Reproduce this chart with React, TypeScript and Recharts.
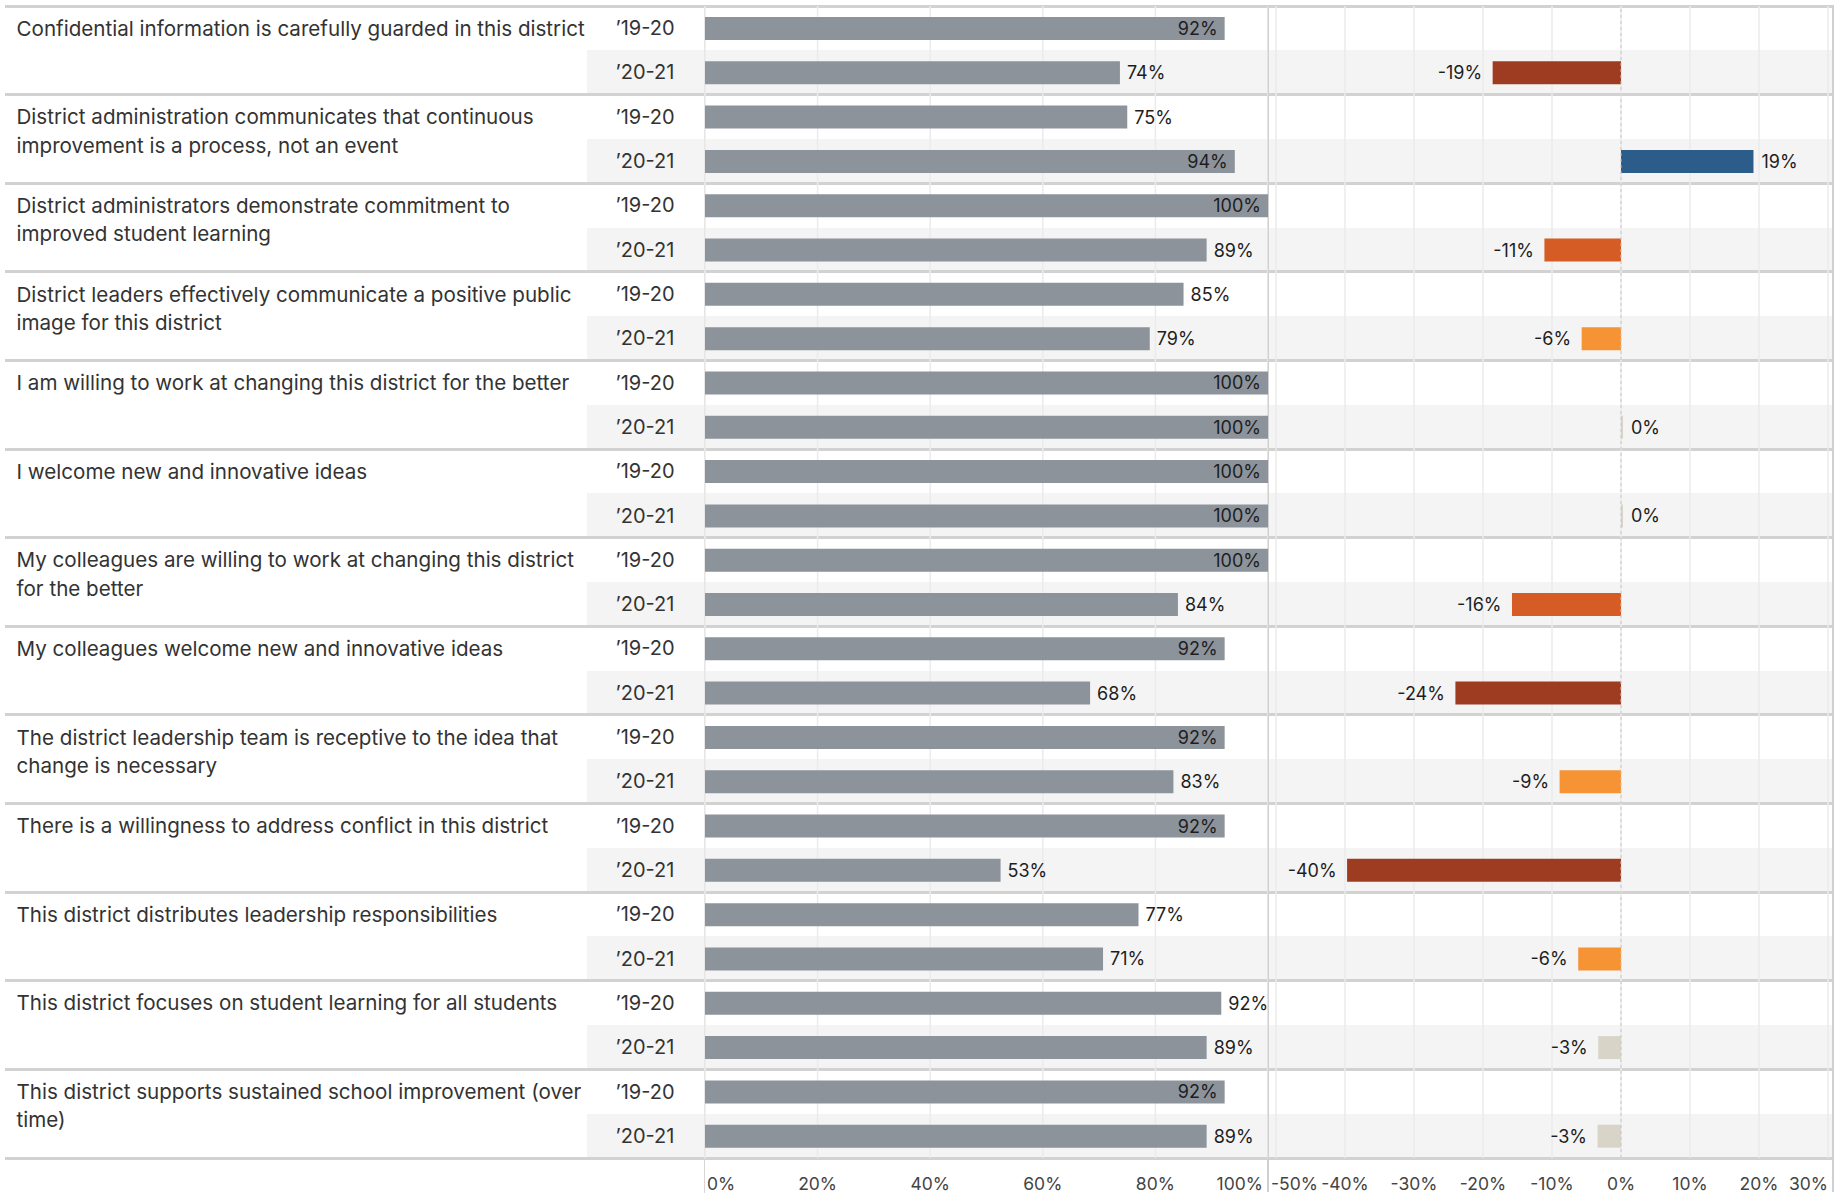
import React from "react";
import {
  BarChart,
  Bar,
  XAxis,
  YAxis,
  CartesianGrid,
  LabelList,
  Cell,
  ReferenceLine,
} from "recharts";

// survey items, in display order (line breaks as wrapped in the original)
const questions = [
  "Confidential information is carefully guarded in this district",
  "District administration communicates that continuous\nimprovement is a process, not an event",
  "District administrators demonstrate commitment to\nimproved student learning",
  "District leaders effectively communicate a positive public\nimage for this district",
  "I am willing to work at changing this district for the better",
  "I welcome new and innovative ideas",
  "My colleagues are willing to work at changing this district\nfor the better",
  "My colleagues welcome new and innovative ideas",
  "The district leadership team is receptive to the idea that\nchange is necessary",
  "There is a willingness to address conflict in this district",
  "This district distributes leadership responsibilities",
  "This district focuses on student learning for all students",
  "This district supports sustained school improvement (over\ntime)",
];

const periods = ["\u201919-20", "\u201920-21"];

const score1920 = [0.923, 0.75, 1, 0.85, 1, 1, 1, 0.923, 0.923, 0.923, 0.77, 0.917, 0.923];
const score2021 = [0.737, 0.941, 0.891, 0.79, 1, 1, 0.84, 0.684, 0.832, 0.525, 0.707, 0.891, 0.891];
const change2021 = [-0.186, 0.192, -0.111, -0.057, 0, 0, -0.158, -0.24, -0.089, -0.397, -0.062, -0.033, -0.034];

const scoreTicks = [0, 0.2, 0.4, 0.6, 0.8, 1];
const changeTicks = [-0.5, -0.4, -0.3, -0.2, -0.1, 0, 0.1, 0.2, 0.3];

const rows = questions.flatMap((q, i) => [
  { key: `${i}-0`, qi: i, period: periods[0], score: score1920[i], change: null },
  { key: `${i}-1`, qi: i, period: periods[1], score: score2021[i], change: change2021[i] },
]);
const rowByKey: Record<string, any> = Object.fromEntries(rows.map((r) => [r.key, r]));

const FONT = "Inter, 'Noto Sans', sans-serif";
const W = 1847;
const H = 1193;
const TOP = 6;
const AXIS_H = 35;
const ROW_H = (H - TOP - AXIS_H) / rows.length;
const SPLIT_X = 1268;

const pct = (v: number) => `${Math.round(v * 100)}%`;

const changeColor = (v: number | null) => {
  if (v == null) return "none";
  if (v > 0) return "#2c5c8a";
  if (v >= -0.04) return "#d8d4c8";
  if (v >= -0.1) return "#f59335";
  if (v >= -0.17) return "#d55c24";
  return "#9e3c22";
};

const rectOf = (props: any) => {
  const vb = props.viewBox || {};
  const x = vb.x ?? props.x;
  const y = vb.y ?? props.y;
  const width = vb.width ?? props.width;
  const height = vb.height ?? props.height;
  return { left: Math.min(x, x + width), right: Math.max(x, x + width), cy: y + height / 2 };
};

const renderScoreLabel = (props: any) => {
  const { value } = props;
  if (value == null) return null;
  const { right, cy } = rectOf(props);
  const inside = value >= 0.92;
  return (
    <text
      x={inside ? right - 7 : right + 7}
      y={cy}
      textAnchor={inside ? "end" : "start"}
      dominantBaseline="central"
      fontSize={18}
      fontFamily={FONT}
      fill="#1e1e1e"
    >
      {pct(value)}
    </text>
  );
};

const renderChangeLabel = (props: any) => {
  const { value } = props;
  if (value == null) return null;
  const { left, right, cy } = rectOf(props);
  const neg = value < 0;
  return (
    <text
      x={neg ? left - 10.5 : right + 8}
      y={cy}
      textAnchor={neg ? "end" : "start"}
      dominantBaseline="central"
      fontSize={18}
      fontFamily={FONT}
      fill="#1e1e1e"
    >
      {pct(value)}
    </text>
  );
};

const makeAxisTick = (ticks: number[], startShift: number, endShift: number) => (props: any) => {
  const { x, y, payload } = props;
  const v = payload.value;
  const first = v === ticks[0];
  const last = v === ticks[ticks.length - 1];
  return (
    <text
      x={x + (first ? startShift : last ? endShift : 0)}
      y={y + 17}
      textAnchor={first ? "start" : last ? "end" : "middle"}
      dominantBaseline="central"
      fontSize={17.5}
      fontFamily={FONT}
      fill="#444"
    >
      {pct(v)}
    </text>
  );
};

const renderRowTick = (props: any) => {
  const { y, payload } = props;
  const row = rowByKey[payload.value];
  if (!row) return null;
  const lines: string[] = row.period === periods[0] ? questions[row.qi].split("\n") : [];
  return (
    <g>
      {lines.map((line, k) => (
        <text
          key={k}
          x={16.5}
          y={y + k * 28.3}
          dominantBaseline="central"
          fontSize={20.6}
          fontFamily={FONT}
          fill="#333"
        >
          {line}
        </text>
      ))}
      <text
        x={645}
        y={y}
        textAnchor="middle"
        dominantBaseline="central"
        fontSize={20}
        fontFamily={FONT}
        fill="#333"
      >
        {row.period}
      </text>
    </g>
  );
};

const Background = () => (
  <div style={{ position: "absolute", left: 0, top: 0, width: W, height: H, background: "#fff" }}>
    {questions.map((_, i) => (
      <div
        key={`band${i}`}
        style={{
          position: "absolute",
          left: 587,
          width: 1833 - 587,
          top: TOP + (2 * i + 1) * ROW_H,
          height: ROW_H,
          background: "#f4f4f4",
        }}
      />
    ))}
    {[...questions, null].map((_, g) => (
      <div
        key={`sep${g}`}
        style={{
          position: "absolute",
          left: 5,
          width: 1828,
          top: TOP + 2 * g * ROW_H - 1.5,
          height: 3,
          background: "#d2d2d2",
        }}
      />
    ))}
    <div style={{ position: "absolute", left: 704, top: TOP, width: 1, height: H - TOP, background: "#d6d6d6" }} />
    <div style={{ position: "absolute", left: SPLIT_X - 1, top: TOP - 1, width: 2, height: H - TOP, background: "#d0d0d0" }} />
    <div style={{ position: "absolute", left: 1832, top: TOP - 1, width: 2, height: H - TOP, background: "#d0d0d0" }} />
  </div>
);

export default function App() {
  return (
    <div style={{ position: "absolute", left: 0, top: 0, width: W, height: H, overflow: "hidden" }}>
      <Background />
      <div style={{ position: "absolute", left: 0, top: 0 }}>
        <BarChart
          width={SPLIT_X}
          height={H}
          data={rows}
          layout="vertical"
          margin={{ top: TOP, right: 0, bottom: 0, left: 0 }}
        >
          <CartesianGrid horizontal={false} stroke="#ebebeb" strokeWidth={1.5} />
          <XAxis
            type="number"
            domain={[0, 1]}
            ticks={scoreTicks}
            interval={0}
            axisLine={false}
            tickLine={false}
            height={AXIS_H}
            tick={makeAxisTick(scoreTicks, 2, -5)}
          />
          <YAxis
            type="category"
            dataKey="key"
            width={705}
            interval={0}
            axisLine={false}
            tickLine={false}
            tick={renderRowTick}
          />
          <Bar dataKey="score" fill="#8c939b" barSize={23} isAnimationActive={false}>
            <LabelList dataKey="score" content={renderScoreLabel} />
          </Bar>
        </BarChart>
      </div>
      <div style={{ position: "absolute", left: SPLIT_X, top: 0 }}>
        <BarChart
          width={W - SPLIT_X}
          height={H}
          data={rows}
          layout="vertical"
          margin={{ top: TOP, right: 19, bottom: 0, left: 8 }}
        >
          <CartesianGrid horizontal={false} stroke="#ebebeb" strokeWidth={1.5} />
          <XAxis
            type="number"
            domain={[-0.5, 0.3]}
            ticks={changeTicks}
            interval={0}
            axisLine={false}
            tickLine={false}
            height={AXIS_H}
            tick={makeAxisTick(changeTicks, -5, 0)}
          />
          <YAxis type="category" dataKey="key" hide />
          <ReferenceLine x={0} stroke="#c6c6c6" strokeDasharray="3 3" />
          <Bar
            dataKey="change"
            barSize={23}
            isAnimationActive={false}
            minPointSize={(v: any) => (v === 0 ? 2 : 0)}
          >
            {rows.map((r) => (
              <Cell key={r.key} fill={changeColor(r.change)} />
            ))}
            <LabelList dataKey="change" content={renderChangeLabel} />
          </Bar>
        </BarChart>
      </div>
    </div>
  );
}
